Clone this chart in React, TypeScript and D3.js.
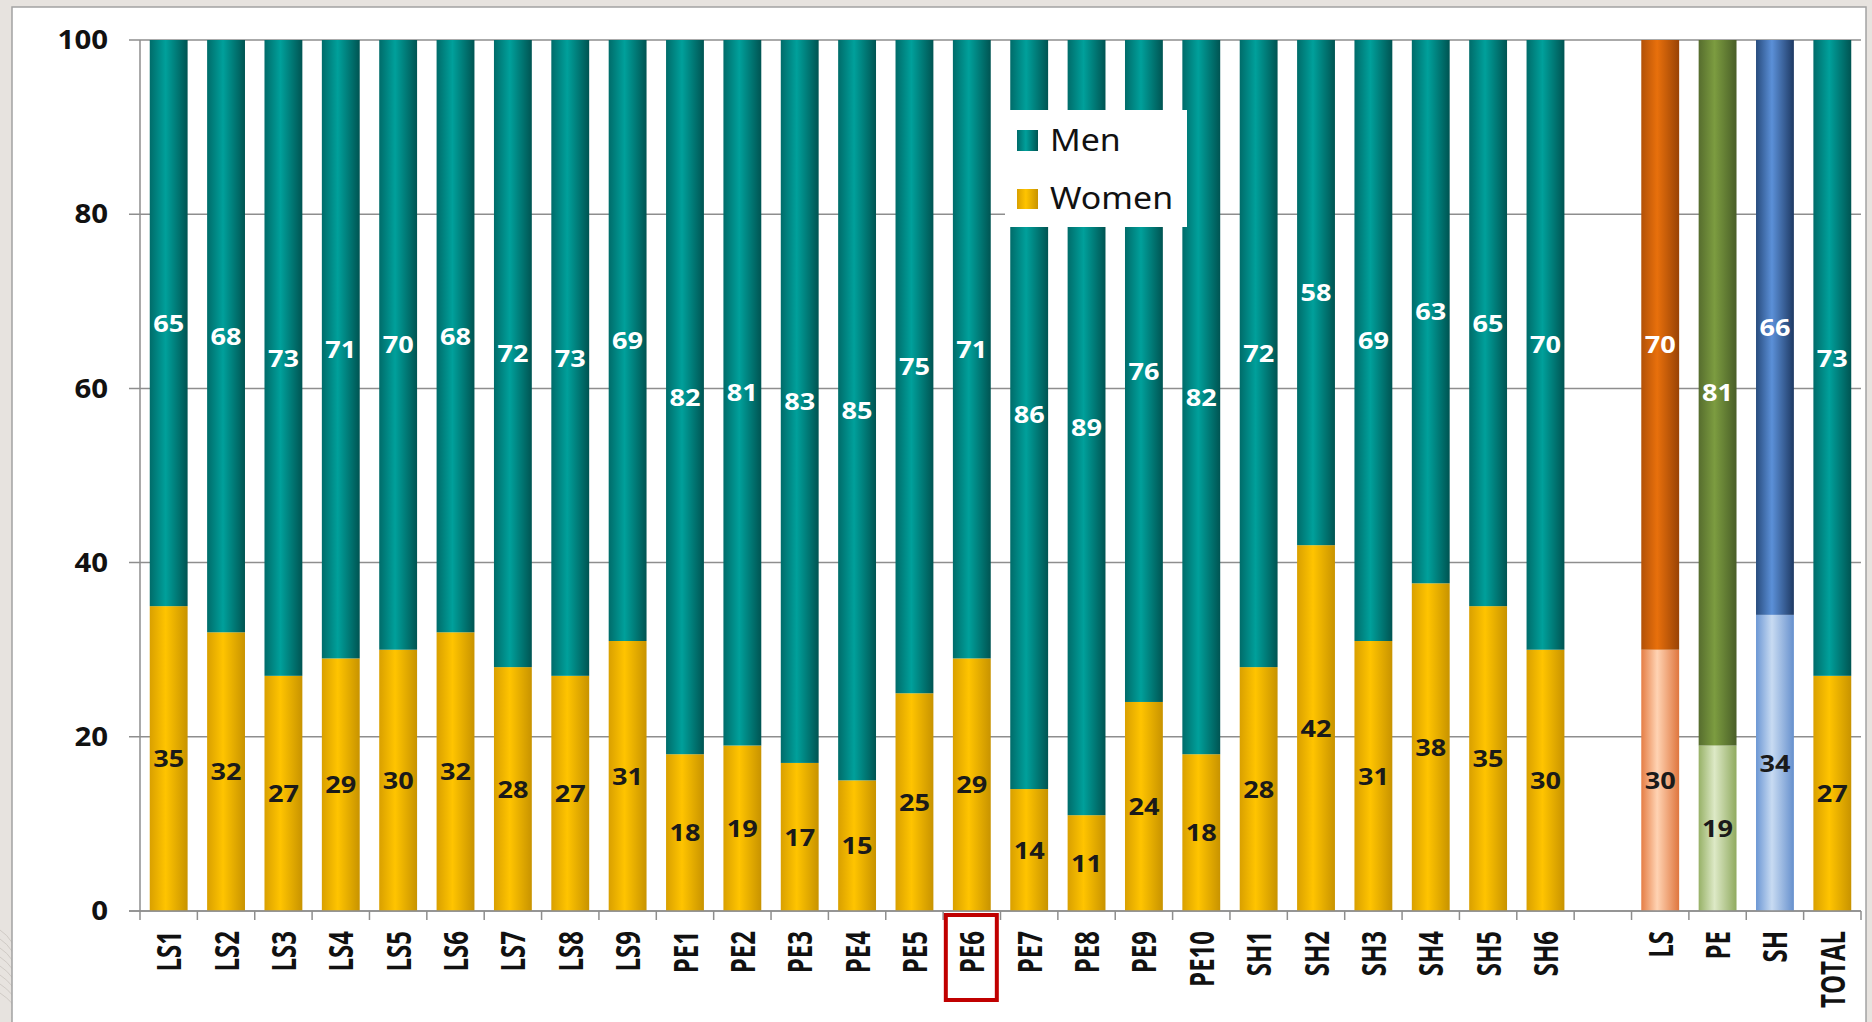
import * as d3 from "d3";

// categories in chart order; "" is the blank slot between SH6 and the group totals
const categories = [
  "LS1", "LS2", "LS3", "LS4", "LS5", "LS6", "LS7", "LS8", "LS9",
  "PE1", "PE2", "PE3", "PE4", "PE5", "PE6", "PE7", "PE8", "PE9", "PE10",
  "SH1", "SH2", "SH3", "SH4", "SH5", "SH6",
  "", "LS", "PE", "SH", "TOTAL",
];

const women = [
  35, 32, 27, 29, 30, 32, 28, 27, 31,
  18, 19, 17, 15, 25, 29, 14, 11, 24, 18,
  28, 42, 31, 38, 35, 30,
  null, 30, 19, 34, 27,
];

const men = [
  65, 68, 73, 71, 70, 68, 72, 73, 69,
  82, 81, 83, 85, 75, 71, 86, 89, 76, 82,
  72, 58, 69, 63, 65, 70,
  null, 70, 81, 66, 73,
];

const yTicks = [0, 20, 40, 60, 80, 100];
const highlighted = "PE6";

const W = 1872;
const H = 1022;
const plot = { left: 140, right: 1861, top: 40, bottom: 911 };
const stretch = 1.13; // the source image is a bit wider than tall

// gradient stops [left, middle, right] for each colour group
const palette: Record<string, { men: string[]; women: string[] }> = {
  base: { men: ["#006c6a", "#00a09b", "#005452"], women: ["#d9a000", "#ffc400", "#c89300"] },
  LS: { men: ["#b25107", "#e8700c", "#994305"], women: ["#e57e45", "#ffd3b3", "#df763e"] },
  PE: { men: ["#566d2e", "#7c9c40", "#495e27"], women: ["#97b167", "#dde9c6", "#90aa5f"] },
  SH: { men: ["#284c7e", "#5b90d8", "#1e3963"], women: ["#6c97d4", "#c8dbf2", "#6690cd"] },
};

const groupOf = (c: string) => (c === "LS" || c === "PE" || c === "SH" ? c : "base");

export default function App() {
  const x = d3
    .scaleBand<string>()
    .domain(categories.map((c, i) => c || `blank${i}`))
    .range([plot.left, plot.right])
    .paddingInner(0.34)
    .paddingOuter(0.17);
  const y = d3.scaleLinear().domain([0, 100]).range([plot.bottom, plot.top]);
  const step = x.step();
  const bw = x.bandwidth();
  const key = (c: string, i: number) => c || `blank${i}`;

  const rows = categories.map((c, i) => {
    const w = women[i];
    const m = men[i];
    if (w == null || m == null) return null;
    const total = w + m;
    const wp = (w / total) * 100;
    return { c, i, w, m, wp, g: groupOf(c) };
  });

  const boundaries = d3.range(categories.length + 1).map((i) => plot.left + i * step);

  return (
    <svg
      width={W}
      height={H}
      style={{ position: "absolute", left: 0, top: 0 }}
      fontFamily="'Open Sans', sans-serif"
    >
      <defs>
        {Object.entries(palette).map(([g, p]) =>
          (["men", "women"] as const).map((s) => (
            <linearGradient key={g + s} id={`grad-${g}-${s}`} x1="0" x2="1" y1="0" y2="0">
              <stop offset="0" stopColor={p[s][0]} />
              <stop offset="0.42" stopColor={p[s][1]} />
              <stop offset="1" stopColor={p[s][2]} />
            </linearGradient>
          ))
        )}
      </defs>

      {/* page background and panel */}
      <rect x={0} y={0} width={W} height={H} fill="#e7e3df" />
      <g fill="none" stroke="#cfcac5" strokeWidth={1}>
        {d3.range(8).map((k) => (
          <path key={k} d={`M0,${930 + k * 9} Q30,${950 + k * 9} 12,${1010 + k * 4}`} />
        ))}
      </g>
      <rect x={12} y={7} width={1854} height={H} fill="#ffffff" stroke="#a3a3a3" strokeWidth={1.5} />

      {/* gridlines and y axis */}
      <g>
        {yTicks.map((t) => (
          <g key={t}>
            <line x1={plot.left - 11} x2={plot.right} y1={y(t)} y2={y(t)} stroke="#8e8e8e" strokeWidth={1.5} />
            <text
              transform={`translate(108,${y(t)}) scale(${stretch},1)`}
              dy="0.35em"
              textAnchor="end"
              fontSize={26}
              fontWeight={700}
              fill="#111"
            >
              {t}
            </text>
          </g>
        ))}
        <line x1={plot.left} x2={plot.left} y1={plot.top} y2={plot.bottom} stroke="#8e8e8e" strokeWidth={1.5} />
      </g>

      {/* bars */}
      {rows.map((r) => {
        if (!r) return null;
        const bx = x(key(r.c, r.i)) ?? 0;
        return (
          <g key={r.c}>
            <rect x={bx} y={y(r.wp)} width={bw} height={y(0) - y(r.wp)} fill={`url(#grad-${r.g}-women)`} />
            <rect x={bx} y={y(100)} width={bw} height={y(r.wp) - y(100)} fill={`url(#grad-${r.g}-men)`} />
          </g>
        );
      })}

      {/* data labels */}
      {rows.map((r) => {
        if (!r) return null;
        const cx = (x(key(r.c, r.i)) ?? 0) + bw / 2;
        return (
          <g key={r.c} fontSize={24} fontWeight={700} textAnchor="middle">
            <text transform={`translate(${cx},${y(r.wp / 2)}) scale(${stretch},1)`} dy="0.36em" fill="#1a1a1a">
              {r.w}
            </text>
            <text transform={`translate(${cx},${y((r.wp + 100) / 2)}) scale(${stretch},1)`} dy="0.36em" fill="#ffffff">
              {r.m}
            </text>
          </g>
        );
      })}

      {/* x axis */}
      <g>
        <line x1={plot.left - 11} x2={plot.right} y1={plot.bottom} y2={plot.bottom} stroke="#8e8e8e" strokeWidth={1.5} />
        {boundaries.map((bx, i) => (
          <line key={i} x1={bx} x2={bx} y1={plot.bottom} y2={plot.bottom + 9} stroke="#8e8e8e" strokeWidth={1.5} />
        ))}
        {categories.map((c, i) =>
          c ? (
            <text
              key={c}
              transform={`translate(${(x(key(c, i)) ?? 0) + bw / 2},${931}) rotate(-90) scale(1,1.45)`}
              textAnchor="end"
              dy="0.36em"
              fontSize={24}
              fontWeight={700}
              fill="#111"
            >
              {c}
            </text>
          ) : null
        )}
        {(() => {
          const i = categories.indexOf(highlighted);
          const cx = (x(key(highlighted, i)) ?? 0) + bw / 2;
          return (
            <rect x={cx - 26} y={915} width={51} height={85} fill="none" stroke="#c00000" strokeWidth={4} />
          );
        })()}
      </g>

      {/* legend */}
      <g fontFamily="'Noto Sans', sans-serif">
        <rect x={1005} y={110} width={182} height={117} fill="#ffffff" />
        <rect x={1017} y={130} width={21} height={21} fill="url(#grad-base-men)" />
        <text transform={`translate(1050,151) scale(${stretch},1)`} fontSize={30} fill="#111">
          Men
        </text>
        <rect x={1017} y={189} width={21} height={20} fill="url(#grad-base-women)" />
        <text transform={`translate(1050,209) scale(${stretch},1)`} fontSize={30} fill="#111">
          Women
        </text>
      </g>
    </svg>
  );
}
